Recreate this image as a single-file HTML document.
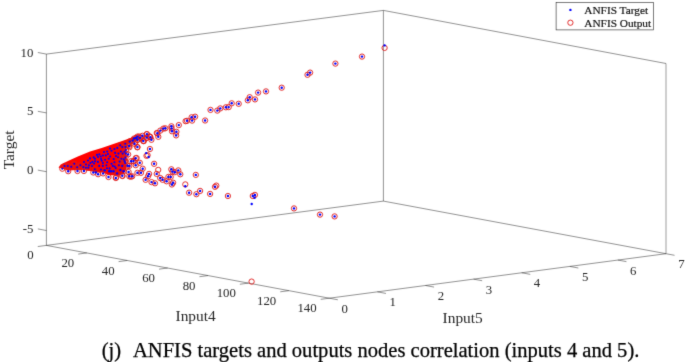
<!DOCTYPE html>
<html><head><meta charset="utf-8"><style>
html,body{margin:0;padding:0;background:#fff;}
body{width:685px;height:362px;overflow:hidden;}
svg{display:block;will-change:transform;}
text{font-family:"Liberation Serif",serif;fill:#262626;}
.cap{fill:#000;stroke:#000;stroke-width:0.25px;}
.lg{fill:#111;stroke:#111;stroke-width:0.2px;}
</style></head><body>
<svg width="685" height="362" viewBox="0 0 685 362">
<defs><filter id="bl" x="0" y="0" width="685" height="362" filterUnits="userSpaceOnUse" color-interpolation-filters="sRGB"><feConvolveMatrix order="3" kernelMatrix="0.01134 0.08382 0.01134 0.08382 0.61935 0.08382 0.01134 0.08382 0.01134" edgeMode="duplicate" preserveAlpha="true"/></filter></defs>
<g filter="url(#bl)">
<rect width="685" height="362" fill="#fff"/>
<line x1="46.40" y1="54.10" x2="383.40" y2="10.40" stroke="#262626" stroke-width="0.5"/>
<line x1="383.40" y1="10.40" x2="666.00" y2="63.50" stroke="#262626" stroke-width="0.5"/>
<line x1="46.40" y1="245.40" x2="383.40" y2="201.10" stroke="#262626" stroke-width="0.5"/>
<line x1="383.40" y1="201.10" x2="666.00" y2="253.70" stroke="#262626" stroke-width="0.5"/>
<line x1="383.40" y1="201.10" x2="383.40" y2="10.40" stroke="#262626" stroke-width="0.5"/>
<line x1="666.00" y1="253.70" x2="666.00" y2="63.50" stroke="#262626" stroke-width="0.45"/>
<line x1="46.40" y1="245.40" x2="46.40" y2="54.10" stroke="#262626" stroke-width="0.5"/>
<line x1="46.40" y1="245.40" x2="329.30" y2="298.20" stroke="#262626" stroke-width="0.5"/>
<line x1="329.30" y1="298.20" x2="666.00" y2="253.70" stroke="#262626" stroke-width="0.5"/>
<line x1="46.40" y1="245.40" x2="37.78" y2="246.54" stroke="#262626" stroke-width="0.5"/>
<line x1="86.81" y1="252.94" x2="78.19" y2="254.08" stroke="#262626" stroke-width="0.5"/>
<line x1="127.23" y1="260.49" x2="118.60" y2="261.63" stroke="#262626" stroke-width="0.5"/>
<line x1="167.64" y1="268.03" x2="159.02" y2="269.17" stroke="#262626" stroke-width="0.5"/>
<line x1="208.06" y1="275.57" x2="199.43" y2="276.71" stroke="#262626" stroke-width="0.5"/>
<line x1="248.47" y1="283.11" x2="239.85" y2="284.25" stroke="#262626" stroke-width="0.5"/>
<line x1="288.89" y1="290.66" x2="280.26" y2="291.80" stroke="#262626" stroke-width="0.5"/>
<line x1="329.30" y1="298.20" x2="320.68" y2="299.34" stroke="#262626" stroke-width="0.5"/>
<line x1="329.30" y1="298.20" x2="337.85" y2="299.80" stroke="#262626" stroke-width="0.5"/>
<line x1="377.40" y1="291.84" x2="385.95" y2="293.44" stroke="#262626" stroke-width="0.5"/>
<line x1="425.50" y1="285.49" x2="434.05" y2="287.08" stroke="#262626" stroke-width="0.5"/>
<line x1="473.60" y1="279.13" x2="482.15" y2="280.72" stroke="#262626" stroke-width="0.5"/>
<line x1="521.70" y1="272.77" x2="530.25" y2="274.37" stroke="#262626" stroke-width="0.5"/>
<line x1="569.80" y1="266.41" x2="578.35" y2="268.01" stroke="#262626" stroke-width="0.5"/>
<line x1="617.90" y1="260.06" x2="626.45" y2="261.65" stroke="#262626" stroke-width="0.5"/>
<line x1="666.00" y1="253.70" x2="674.55" y2="255.30" stroke="#262626" stroke-width="0.5"/>
<line x1="46.40" y1="230.50" x2="37.85" y2="228.90" stroke="#262626" stroke-width="0.5"/>
<line x1="46.40" y1="171.70" x2="37.85" y2="170.10" stroke="#262626" stroke-width="0.5"/>
<line x1="46.40" y1="112.90" x2="37.85" y2="111.30" stroke="#262626" stroke-width="0.5"/>
<line x1="46.40" y1="54.10" x2="37.85" y2="52.50" stroke="#262626" stroke-width="0.5"/>
<polygon points="58.5,167.5 60.8,164.6 69,160.4 78.4,156.2 90,151.6 101.7,148 113.4,144 125,139.9 132.4,137.3 136,136.6 135,139.5 131,142 127.5,145 126.5,149 126.5,160 126.5,168 125,172 122.5,174.5 116.1,175.5 108.5,175 103.1,172.5 98.1,172.5 93.3,171.5 83.9,170 77.5,170 68.2,170.5 62.3,168.7" fill="#ff0000"/>
<circle cx="362.0" cy="56.6" r="2.65" fill="none" stroke="#e01a1a" stroke-width="0.9"/>
<circle cx="335.4" cy="63.6" r="2.65" fill="none" stroke="#e01a1a" stroke-width="0.9"/>
<circle cx="310.1" cy="72.6" r="2.65" fill="none" stroke="#e01a1a" stroke-width="0.9"/>
<circle cx="307.5" cy="74.8" r="2.65" fill="none" stroke="#e01a1a" stroke-width="0.9"/>
<circle cx="281.7" cy="87.7" r="2.65" fill="none" stroke="#e01a1a" stroke-width="0.9"/>
<circle cx="266.0" cy="91.4" r="2.65" fill="none" stroke="#e01a1a" stroke-width="0.9"/>
<circle cx="258.1" cy="92.6" r="2.65" fill="none" stroke="#e01a1a" stroke-width="0.9"/>
<circle cx="249.7" cy="97.2" r="2.65" fill="none" stroke="#e01a1a" stroke-width="0.9"/>
<circle cx="247.8" cy="100.3" r="2.65" fill="none" stroke="#e01a1a" stroke-width="0.9"/>
<circle cx="255.0" cy="99.4" r="2.65" fill="none" stroke="#e01a1a" stroke-width="0.9"/>
<circle cx="238.7" cy="103.8" r="2.65" fill="none" stroke="#e01a1a" stroke-width="0.9"/>
<circle cx="231.7" cy="103.3" r="2.65" fill="none" stroke="#e01a1a" stroke-width="0.9"/>
<circle cx="228.7" cy="107.1" r="2.65" fill="none" stroke="#e01a1a" stroke-width="0.9"/>
<circle cx="225.9" cy="107.3" r="2.65" fill="none" stroke="#e01a1a" stroke-width="0.9"/>
<circle cx="220.3" cy="108.4" r="2.65" fill="none" stroke="#e01a1a" stroke-width="0.9"/>
<circle cx="217.3" cy="110.6" r="2.65" fill="none" stroke="#e01a1a" stroke-width="0.9"/>
<circle cx="210.5" cy="109.9" r="2.65" fill="none" stroke="#e01a1a" stroke-width="0.9"/>
<circle cx="205.1" cy="120.5" r="2.65" fill="none" stroke="#e01a1a" stroke-width="0.9"/>
<circle cx="195.1" cy="116.7" r="2.65" fill="none" stroke="#e01a1a" stroke-width="0.9"/>
<circle cx="191.6" cy="117.3" r="2.65" fill="none" stroke="#e01a1a" stroke-width="0.9"/>
<circle cx="192.1" cy="120.6" r="2.65" fill="none" stroke="#e01a1a" stroke-width="0.9"/>
<circle cx="187.0" cy="120.8" r="2.65" fill="none" stroke="#e01a1a" stroke-width="0.9"/>
<circle cx="185.6" cy="121.2" r="2.65" fill="none" stroke="#e01a1a" stroke-width="0.9"/>
<circle cx="178.8" cy="125.1" r="2.65" fill="none" stroke="#e01a1a" stroke-width="0.9"/>
<circle cx="171.4" cy="126.3" r="2.65" fill="none" stroke="#e01a1a" stroke-width="0.9"/>
<circle cx="171.6" cy="128.4" r="2.65" fill="none" stroke="#e01a1a" stroke-width="0.9"/>
<circle cx="172" cy="131.3" r="2.65" fill="none" stroke="#e01a1a" stroke-width="0.9"/>
<circle cx="176.4" cy="131.8" r="2.65" fill="none" stroke="#e01a1a" stroke-width="0.9"/>
<circle cx="176.1" cy="135.4" r="2.65" fill="none" stroke="#e01a1a" stroke-width="0.9"/>
<circle cx="165.3" cy="128.3" r="2.65" fill="none" stroke="#e01a1a" stroke-width="0.9"/>
<circle cx="163.4" cy="128.6" r="2.65" fill="none" stroke="#e01a1a" stroke-width="0.9"/>
<circle cx="160.3" cy="130.6" r="2.65" fill="none" stroke="#e01a1a" stroke-width="0.9"/>
<circle cx="157.4" cy="133.3" r="2.65" fill="none" stroke="#e01a1a" stroke-width="0.9"/>
<circle cx="158.3" cy="136.8" r="2.65" fill="none" stroke="#e01a1a" stroke-width="0.9"/>
<circle cx="146.9" cy="134.1" r="2.65" fill="none" stroke="#e01a1a" stroke-width="0.9"/>
<circle cx="146.6" cy="137.6" r="2.65" fill="none" stroke="#e01a1a" stroke-width="0.9"/>
<circle cx="150.4" cy="137.1" r="2.65" fill="none" stroke="#e01a1a" stroke-width="0.9"/>
<circle cx="149.9" cy="136.6" r="2.65" fill="none" stroke="#e01a1a" stroke-width="0.9"/>
<circle cx="143.3" cy="141" r="2.65" fill="none" stroke="#e01a1a" stroke-width="0.9"/>
<circle cx="140" cy="137.7" r="2.65" fill="none" stroke="#e01a1a" stroke-width="0.9"/>
<circle cx="384.6" cy="47.9" r="2.65" fill="none" stroke="#e01a1a" stroke-width="0.9"/>
<circle cx="154.1" cy="163.8" r="2.65" fill="none" stroke="#e01a1a" stroke-width="0.9"/>
<circle cx="156.7" cy="173.9" r="2.65" fill="none" stroke="#e01a1a" stroke-width="0.9"/>
<circle cx="149.1" cy="173.9" r="2.65" fill="none" stroke="#e01a1a" stroke-width="0.9"/>
<circle cx="148" cy="176.3" r="2.65" fill="none" stroke="#e01a1a" stroke-width="0.9"/>
<circle cx="145.6" cy="179.8" r="2.65" fill="none" stroke="#e01a1a" stroke-width="0.9"/>
<circle cx="151.5" cy="182.1" r="2.65" fill="none" stroke="#e01a1a" stroke-width="0.9"/>
<circle cx="155" cy="183.3" r="2.65" fill="none" stroke="#e01a1a" stroke-width="0.9"/>
<circle cx="160.2" cy="178" r="2.65" fill="none" stroke="#e01a1a" stroke-width="0.9"/>
<circle cx="162.6" cy="179.8" r="2.65" fill="none" stroke="#e01a1a" stroke-width="0.9"/>
<circle cx="166.6" cy="181.3" r="2.65" fill="none" stroke="#e01a1a" stroke-width="0.9"/>
<circle cx="168.4" cy="176.9" r="2.65" fill="none" stroke="#e01a1a" stroke-width="0.9"/>
<circle cx="170.7" cy="176.9" r="2.65" fill="none" stroke="#e01a1a" stroke-width="0.9"/>
<circle cx="171.3" cy="169.3" r="2.65" fill="none" stroke="#e01a1a" stroke-width="0.9"/>
<circle cx="172.5" cy="171.6" r="2.65" fill="none" stroke="#e01a1a" stroke-width="0.9"/>
<circle cx="174.8" cy="172.2" r="2.65" fill="none" stroke="#e01a1a" stroke-width="0.9"/>
<circle cx="178.3" cy="170.4" r="2.65" fill="none" stroke="#e01a1a" stroke-width="0.9"/>
<circle cx="180.3" cy="174.3" r="2.65" fill="none" stroke="#e01a1a" stroke-width="0.9"/>
<circle cx="171.9" cy="184.5" r="2.65" fill="none" stroke="#e01a1a" stroke-width="0.9"/>
<circle cx="173.1" cy="182.7" r="2.65" fill="none" stroke="#e01a1a" stroke-width="0.9"/>
<circle cx="195.8" cy="174.9" r="2.65" fill="none" stroke="#e01a1a" stroke-width="0.9"/>
<circle cx="189.1" cy="192.7" r="2.65" fill="none" stroke="#e01a1a" stroke-width="0.9"/>
<circle cx="196.4" cy="194.2" r="2.65" fill="none" stroke="#e01a1a" stroke-width="0.9"/>
<circle cx="200.1" cy="190.9" r="2.65" fill="none" stroke="#e01a1a" stroke-width="0.9"/>
<circle cx="210.1" cy="193.9" r="2.65" fill="none" stroke="#e01a1a" stroke-width="0.9"/>
<circle cx="215.0" cy="186.8" r="2.65" fill="none" stroke="#e01a1a" stroke-width="0.9"/>
<circle cx="216.3" cy="185.6" r="2.65" fill="none" stroke="#e01a1a" stroke-width="0.9"/>
<circle cx="227.9" cy="196" r="2.65" fill="none" stroke="#e01a1a" stroke-width="0.9"/>
<circle cx="252.8" cy="196" r="2.65" fill="none" stroke="#e01a1a" stroke-width="0.9"/>
<circle cx="254.9" cy="194.9" r="2.65" fill="none" stroke="#e01a1a" stroke-width="0.9"/>
<circle cx="294" cy="208.4" r="2.65" fill="none" stroke="#e01a1a" stroke-width="0.9"/>
<circle cx="320" cy="214.6" r="2.65" fill="none" stroke="#e01a1a" stroke-width="0.9"/>
<circle cx="334.6" cy="216.4" r="2.65" fill="none" stroke="#e01a1a" stroke-width="0.9"/>
<circle cx="158.2" cy="169.9" r="2.65" fill="none" stroke="#e01a1a" stroke-width="0.9"/>
<circle cx="185.3" cy="184.4" r="2.65" fill="none" stroke="#e01a1a" stroke-width="0.9"/>
<circle cx="251.6" cy="281.6" r="2.65" fill="none" stroke="#e01a1a" stroke-width="0.9"/>
<circle cx="135.7" cy="158.2" r="2.65" fill="none" stroke="#e01a1a" stroke-width="0.9"/>
<circle cx="133.4" cy="161.1" r="2.65" fill="none" stroke="#e01a1a" stroke-width="0.9"/>
<circle cx="139.8" cy="162.8" r="2.65" fill="none" stroke="#e01a1a" stroke-width="0.9"/>
<circle cx="135.7" cy="165.2" r="2.65" fill="none" stroke="#e01a1a" stroke-width="0.9"/>
<circle cx="142.7" cy="168.7" r="2.65" fill="none" stroke="#e01a1a" stroke-width="0.9"/>
<circle cx="141" cy="172.8" r="2.65" fill="none" stroke="#e01a1a" stroke-width="0.9"/>
<circle cx="137.4" cy="172.8" r="2.65" fill="none" stroke="#e01a1a" stroke-width="0.9"/>
<circle cx="132.2" cy="176.3" r="2.65" fill="none" stroke="#e01a1a" stroke-width="0.9"/>
<circle cx="129.3" cy="176.3" r="2.65" fill="none" stroke="#e01a1a" stroke-width="0.9"/>
<circle cx="122.3" cy="175.7" r="2.65" fill="none" stroke="#e01a1a" stroke-width="0.9"/>
<circle cx="115.8" cy="178" r="2.65" fill="none" stroke="#e01a1a" stroke-width="0.9"/>
<circle cx="127.5" cy="165.8" r="2.65" fill="none" stroke="#e01a1a" stroke-width="0.9"/>
<circle cx="62.3" cy="168.7" r="2.65" fill="none" stroke="#e01a1a" stroke-width="0.9"/>
<circle cx="68.2" cy="171.2" r="2.65" fill="none" stroke="#e01a1a" stroke-width="0.9"/>
<circle cx="71.2" cy="166.7" r="2.65" fill="none" stroke="#e01a1a" stroke-width="0.9"/>
<circle cx="77.5" cy="171" r="2.65" fill="none" stroke="#e01a1a" stroke-width="0.9"/>
<circle cx="83.9" cy="171" r="2.65" fill="none" stroke="#e01a1a" stroke-width="0.9"/>
<circle cx="93.3" cy="172.5" r="2.65" fill="none" stroke="#e01a1a" stroke-width="0.9"/>
<circle cx="98.1" cy="174.2" r="2.65" fill="none" stroke="#e01a1a" stroke-width="0.9"/>
<circle cx="103.1" cy="173.4" r="2.65" fill="none" stroke="#e01a1a" stroke-width="0.9"/>
<circle cx="108.5" cy="177" r="2.65" fill="none" stroke="#e01a1a" stroke-width="0.9"/>
<circle cx="116.1" cy="177.4" r="2.65" fill="none" stroke="#e01a1a" stroke-width="0.9"/>
<circle cx="122.5" cy="176" r="2.65" fill="none" stroke="#e01a1a" stroke-width="0.9"/>
<circle cx="113.5" cy="171.3" r="2.65" fill="none" stroke="#e01a1a" stroke-width="0.9"/>
<circle cx="117.1" cy="173.4" r="2.65" fill="none" stroke="#e01a1a" stroke-width="0.9"/>
<circle cx="128.6" cy="172" r="2.65" fill="none" stroke="#e01a1a" stroke-width="0.9"/>
<circle cx="130.8" cy="176.7" r="2.65" fill="none" stroke="#e01a1a" stroke-width="0.9"/>
<circle cx="146.7" cy="134.3" r="2.65" fill="none" stroke="#e01a1a" stroke-width="0.9"/>
<circle cx="146.4" cy="138.1" r="2.65" fill="none" stroke="#e01a1a" stroke-width="0.9"/>
<circle cx="149.6" cy="136.6" r="2.65" fill="none" stroke="#e01a1a" stroke-width="0.9"/>
<circle cx="151.4" cy="139.8" r="2.65" fill="none" stroke="#e01a1a" stroke-width="0.9"/>
<circle cx="143.5" cy="140.9" r="2.65" fill="none" stroke="#e01a1a" stroke-width="0.9"/>
<circle cx="140.6" cy="138.1" r="2.65" fill="none" stroke="#e01a1a" stroke-width="0.9"/>
<circle cx="137.4" cy="139.8" r="2.65" fill="none" stroke="#e01a1a" stroke-width="0.9"/>
<circle cx="137.4" cy="136.6" r="2.65" fill="none" stroke="#e01a1a" stroke-width="0.9"/>
<circle cx="132.7" cy="140.6" r="2.65" fill="none" stroke="#e01a1a" stroke-width="0.9"/>
<circle cx="134.5" cy="143.8" r="2.65" fill="none" stroke="#e01a1a" stroke-width="0.9"/>
<circle cx="137.4" cy="147" r="2.65" fill="none" stroke="#e01a1a" stroke-width="0.9"/>
<circle cx="129.1" cy="146" r="2.65" fill="none" stroke="#e01a1a" stroke-width="0.9"/>
<circle cx="129.8" cy="141.6" r="2.65" fill="none" stroke="#e01a1a" stroke-width="0.9"/>
<circle cx="125.2" cy="143.8" r="2.65" fill="none" stroke="#e01a1a" stroke-width="0.9"/>
<circle cx="122.3" cy="147" r="2.65" fill="none" stroke="#e01a1a" stroke-width="0.9"/>
<circle cx="125.5" cy="147" r="2.65" fill="none" stroke="#e01a1a" stroke-width="0.9"/>
<circle cx="120.2" cy="145.2" r="2.65" fill="none" stroke="#e01a1a" stroke-width="0.9"/>
<circle cx="156.8" cy="133" r="2.65" fill="none" stroke="#e01a1a" stroke-width="0.9"/>
<circle cx="136.6" cy="158" r="2.65" fill="none" stroke="#e01a1a" stroke-width="0.9"/>
<circle cx="133.7" cy="161.4" r="2.65" fill="none" stroke="#e01a1a" stroke-width="0.9"/>
<circle cx="64.6" cy="166" r="2.65" fill="none" stroke="#e01a1a" stroke-width="0.9"/>
<circle cx="67.8" cy="166" r="2.65" fill="none" stroke="#e01a1a" stroke-width="0.9"/>
<circle cx="74.3" cy="163.8" r="2.65" fill="none" stroke="#e01a1a" stroke-width="0.9"/>
<circle cx="77.2" cy="167.2" r="2.65" fill="none" stroke="#e01a1a" stroke-width="0.9"/>
<circle cx="80.4" cy="165.3" r="2.65" fill="none" stroke="#e01a1a" stroke-width="0.9"/>
<circle cx="83.3" cy="167.1" r="2.65" fill="none" stroke="#e01a1a" stroke-width="0.9"/>
<circle cx="88.3" cy="167.8" r="2.65" fill="none" stroke="#e01a1a" stroke-width="0.9"/>
<circle cx="94.8" cy="169.2" r="2.65" fill="none" stroke="#e01a1a" stroke-width="0.9"/>
<circle cx="126.5" cy="167" r="2.65" fill="none" stroke="#e01a1a" stroke-width="0.9"/>
<circle cx="129.3" cy="165.9" r="2.65" fill="none" stroke="#e01a1a" stroke-width="0.9"/>
<circle cx="123.6" cy="171.3" r="2.65" fill="none" stroke="#e01a1a" stroke-width="0.9"/>
<circle cx="131.1" cy="161.2" r="2.65" fill="none" stroke="#e01a1a" stroke-width="0.9"/>
<circle cx="124.7" cy="161.2" r="2.65" fill="none" stroke="#e01a1a" stroke-width="0.9"/>
<circle cx="119.6" cy="161.6" r="2.65" fill="none" stroke="#e01a1a" stroke-width="0.9"/>
<circle cx="118.9" cy="165.2" r="2.65" fill="none" stroke="#e01a1a" stroke-width="0.9"/>
<circle cx="121.4" cy="158.7" r="2.65" fill="none" stroke="#e01a1a" stroke-width="0.9"/>
<circle cx="125.2" cy="161.2" r="2.65" fill="none" stroke="#e01a1a" stroke-width="0.9"/>
<circle cx="123.8" cy="159.4" r="2.65" fill="none" stroke="#e01a1a" stroke-width="0.9"/>
<circle cx="125.5" cy="157.6" r="2.65" fill="none" stroke="#e01a1a" stroke-width="0.9"/>
<circle cx="128.1" cy="154.4" r="2.65" fill="none" stroke="#e01a1a" stroke-width="0.9"/>
<circle cx="125.9" cy="153.6" r="2.65" fill="none" stroke="#e01a1a" stroke-width="0.9"/>
<circle cx="125.9" cy="150" r="2.65" fill="none" stroke="#e01a1a" stroke-width="0.9"/>
<circle cx="128.1" cy="145" r="2.65" fill="none" stroke="#e01a1a" stroke-width="0.9"/>
<circle cx="129.5" cy="147.2" r="2.65" fill="none" stroke="#e01a1a" stroke-width="0.9"/>
<circle cx="122.7" cy="153.6" r="2.65" fill="none" stroke="#e01a1a" stroke-width="0.9"/>
<circle cx="120.9" cy="157.6" r="2.65" fill="none" stroke="#e01a1a" stroke-width="0.9"/>
<circle cx="149.9" cy="149" r="2.65" fill="none" stroke="#e01a1a" stroke-width="0.9"/>
<circle cx="146.5" cy="155.8" r="2.65" fill="none" stroke="#e01a1a" stroke-width="0.9"/>
<circle cx="147.6" cy="155.2" r="2.65" fill="none" stroke="#e01a1a" stroke-width="0.9"/>
<circle cx="137.4" cy="147.3" r="2.65" fill="none" stroke="#e01a1a" stroke-width="0.9"/>
<circle cx="132.9" cy="140.2" r="2.65" fill="none" stroke="#e01a1a" stroke-width="0.9"/>
<circle cx="135.3" cy="142.6" r="2.65" fill="none" stroke="#e01a1a" stroke-width="0.9"/>
<circle cx="137.4" cy="139.9" r="2.65" fill="none" stroke="#e01a1a" stroke-width="0.9"/>
<circle cx="140.8" cy="137.8" r="2.65" fill="none" stroke="#e01a1a" stroke-width="0.9"/>
<circle cx="143.8" cy="141.1" r="2.65" fill="none" stroke="#e01a1a" stroke-width="0.9"/>
<circle cx="139" cy="136.5" r="2.65" fill="none" stroke="#e01a1a" stroke-width="0.9"/>
<circle cx="136" cy="138" r="2.65" fill="none" stroke="#e01a1a" stroke-width="0.9"/>
<circle cx="142.5" cy="135.8" r="2.65" fill="none" stroke="#e01a1a" stroke-width="0.9"/>
<circle cx="129.8" cy="141.4" r="2.65" fill="none" stroke="#e01a1a" stroke-width="0.9"/>
<circle cx="134.1" cy="138.5" r="2.65" fill="none" stroke="#e01a1a" stroke-width="0.9"/>
<circle cx="362.0" cy="56.6" r="1.2" fill="#0000ff"/>
<circle cx="335.4" cy="63.6" r="1.2" fill="#0000ff"/>
<circle cx="310.1" cy="72.6" r="1.2" fill="#0000ff"/>
<circle cx="307.5" cy="74.8" r="1.2" fill="#0000ff"/>
<circle cx="281.7" cy="87.7" r="1.2" fill="#0000ff"/>
<circle cx="266.0" cy="91.4" r="1.2" fill="#0000ff"/>
<circle cx="258.1" cy="92.6" r="1.2" fill="#0000ff"/>
<circle cx="249.7" cy="97.2" r="1.2" fill="#0000ff"/>
<circle cx="247.8" cy="100.3" r="1.2" fill="#0000ff"/>
<circle cx="255.0" cy="99.4" r="1.2" fill="#0000ff"/>
<circle cx="238.7" cy="103.8" r="1.2" fill="#0000ff"/>
<circle cx="231.7" cy="103.3" r="1.2" fill="#0000ff"/>
<circle cx="228.7" cy="107.1" r="1.2" fill="#0000ff"/>
<circle cx="225.9" cy="107.3" r="1.2" fill="#0000ff"/>
<circle cx="220.3" cy="108.4" r="1.2" fill="#0000ff"/>
<circle cx="217.3" cy="110.6" r="1.2" fill="#0000ff"/>
<circle cx="210.5" cy="109.9" r="1.2" fill="#0000ff"/>
<circle cx="205.1" cy="120.5" r="1.2" fill="#0000ff"/>
<circle cx="195.1" cy="116.7" r="1.2" fill="#0000ff"/>
<circle cx="191.6" cy="117.3" r="1.2" fill="#0000ff"/>
<circle cx="192.1" cy="120.6" r="1.2" fill="#0000ff"/>
<circle cx="187.0" cy="120.8" r="1.2" fill="#0000ff"/>
<circle cx="178.8" cy="125.1" r="1.2" fill="#0000ff"/>
<circle cx="171.4" cy="126.3" r="1.2" fill="#0000ff"/>
<circle cx="171.6" cy="128.4" r="1.2" fill="#0000ff"/>
<circle cx="172" cy="131.3" r="1.2" fill="#0000ff"/>
<circle cx="176.4" cy="131.8" r="1.2" fill="#0000ff"/>
<circle cx="176.1" cy="135.4" r="1.2" fill="#0000ff"/>
<circle cx="165.3" cy="128.3" r="1.2" fill="#0000ff"/>
<circle cx="163.4" cy="128.6" r="1.2" fill="#0000ff"/>
<circle cx="160.3" cy="130.6" r="1.2" fill="#0000ff"/>
<circle cx="157.4" cy="133.3" r="1.2" fill="#0000ff"/>
<circle cx="158.3" cy="136.8" r="1.2" fill="#0000ff"/>
<circle cx="146.9" cy="134.1" r="1.2" fill="#0000ff"/>
<circle cx="146.6" cy="137.6" r="1.2" fill="#0000ff"/>
<circle cx="150.4" cy="137.1" r="1.2" fill="#0000ff"/>
<circle cx="143.3" cy="141" r="1.2" fill="#0000ff"/>
<circle cx="140" cy="137.7" r="1.2" fill="#0000ff"/>
<circle cx="384.6" cy="45.4" r="1.2" fill="#0000ff"/>
<circle cx="154.1" cy="163.8" r="1.2" fill="#0000ff"/>
<circle cx="156.7" cy="173.9" r="1.2" fill="#0000ff"/>
<circle cx="149.1" cy="173.9" r="1.2" fill="#0000ff"/>
<circle cx="148" cy="176.3" r="1.2" fill="#0000ff"/>
<circle cx="145.6" cy="179.8" r="1.2" fill="#0000ff"/>
<circle cx="151.5" cy="182.1" r="1.2" fill="#0000ff"/>
<circle cx="155" cy="183.3" r="1.2" fill="#0000ff"/>
<circle cx="160.2" cy="178" r="1.2" fill="#0000ff"/>
<circle cx="162.6" cy="179.8" r="1.2" fill="#0000ff"/>
<circle cx="166.6" cy="181.3" r="1.2" fill="#0000ff"/>
<circle cx="168.4" cy="176.9" r="1.2" fill="#0000ff"/>
<circle cx="170.7" cy="176.9" r="1.2" fill="#0000ff"/>
<circle cx="171.3" cy="169.3" r="1.2" fill="#0000ff"/>
<circle cx="172.5" cy="171.6" r="1.2" fill="#0000ff"/>
<circle cx="174.8" cy="172.2" r="1.2" fill="#0000ff"/>
<circle cx="178.3" cy="170.4" r="1.2" fill="#0000ff"/>
<circle cx="180.3" cy="174.3" r="1.2" fill="#0000ff"/>
<circle cx="171.9" cy="184.5" r="1.2" fill="#0000ff"/>
<circle cx="173.1" cy="182.7" r="1.2" fill="#0000ff"/>
<circle cx="195.8" cy="174.9" r="1.2" fill="#0000ff"/>
<circle cx="189.1" cy="192.7" r="1.2" fill="#0000ff"/>
<circle cx="196.4" cy="194.2" r="1.2" fill="#0000ff"/>
<circle cx="200.1" cy="190.9" r="1.2" fill="#0000ff"/>
<circle cx="210.1" cy="193.9" r="1.2" fill="#0000ff"/>
<circle cx="215.0" cy="186.8" r="1.2" fill="#0000ff"/>
<circle cx="227.9" cy="196" r="1.2" fill="#0000ff"/>
<circle cx="252.8" cy="196" r="1.2" fill="#0000ff"/>
<circle cx="254.9" cy="194.9" r="1.2" fill="#0000ff"/>
<circle cx="294" cy="208.4" r="1.2" fill="#0000ff"/>
<circle cx="320" cy="214.6" r="1.2" fill="#0000ff"/>
<circle cx="334.6" cy="216.4" r="1.2" fill="#0000ff"/>
<circle cx="185.3" cy="186.3" r="1.2" fill="#0000ff"/>
<circle cx="254.6" cy="197.8" r="1.2" fill="#0000ff"/>
<circle cx="251.7" cy="204" r="1.2" fill="#0000ff"/>
<circle cx="135.7" cy="158.2" r="1.2" fill="#0000ff"/>
<circle cx="133.4" cy="161.1" r="1.2" fill="#0000ff"/>
<circle cx="139.8" cy="162.8" r="1.2" fill="#0000ff"/>
<circle cx="135.7" cy="165.2" r="1.2" fill="#0000ff"/>
<circle cx="142.7" cy="168.7" r="1.2" fill="#0000ff"/>
<circle cx="141" cy="172.8" r="1.2" fill="#0000ff"/>
<circle cx="137.4" cy="172.8" r="1.2" fill="#0000ff"/>
<circle cx="132.2" cy="176.3" r="1.2" fill="#0000ff"/>
<circle cx="129.3" cy="176.3" r="1.2" fill="#0000ff"/>
<circle cx="122.3" cy="175.7" r="1.2" fill="#0000ff"/>
<circle cx="115.8" cy="178" r="1.2" fill="#0000ff"/>
<circle cx="127.5" cy="165.8" r="1.2" fill="#0000ff"/>
<circle cx="62.3" cy="168.7" r="1.05" fill="#0000ff"/>
<circle cx="68.2" cy="171.2" r="1.2" fill="#0000ff"/>
<circle cx="71.2" cy="166.7" r="1.05" fill="#0000ff"/>
<circle cx="77.5" cy="171" r="1.2" fill="#0000ff"/>
<circle cx="83.9" cy="171" r="1.2" fill="#0000ff"/>
<circle cx="93.3" cy="172.5" r="1.2" fill="#0000ff"/>
<circle cx="98.1" cy="174.2" r="1.2" fill="#0000ff"/>
<circle cx="103.1" cy="173.4" r="1.2" fill="#0000ff"/>
<circle cx="108.5" cy="177" r="1.2" fill="#0000ff"/>
<circle cx="113.5" cy="171.3" r="1.2" fill="#0000ff"/>
<circle cx="117.1" cy="173.4" r="1.2" fill="#0000ff"/>
<circle cx="128.6" cy="172" r="1.2" fill="#0000ff"/>
<circle cx="151.4" cy="139.8" r="1.2" fill="#0000ff"/>
<circle cx="137.4" cy="139.8" r="1.2" fill="#0000ff"/>
<circle cx="137.4" cy="136.6" r="1.2" fill="#0000ff"/>
<circle cx="132.7" cy="140.6" r="1.2" fill="#0000ff"/>
<circle cx="134.5" cy="143.8" r="1.2" fill="#0000ff"/>
<circle cx="137.4" cy="147" r="1.2" fill="#0000ff"/>
<circle cx="129.1" cy="146" r="1.2" fill="#0000ff"/>
<circle cx="129.8" cy="141.6" r="1.2" fill="#0000ff"/>
<circle cx="125.2" cy="143.8" r="1.05" fill="#0000ff"/>
<circle cx="122.3" cy="147" r="1.05" fill="#0000ff"/>
<circle cx="125.5" cy="147" r="1.05" fill="#0000ff"/>
<circle cx="120.2" cy="145.2" r="1.05" fill="#0000ff"/>
<circle cx="64.6" cy="166" r="1.05" fill="#0000ff"/>
<circle cx="67.8" cy="166" r="1.05" fill="#0000ff"/>
<circle cx="74.3" cy="163.8" r="1.05" fill="#0000ff"/>
<circle cx="77.2" cy="167.2" r="1.05" fill="#0000ff"/>
<circle cx="80.4" cy="165.3" r="1.05" fill="#0000ff"/>
<circle cx="83.3" cy="167.1" r="1.05" fill="#0000ff"/>
<circle cx="88.3" cy="167.8" r="1.05" fill="#0000ff"/>
<circle cx="94.8" cy="169.2" r="1.05" fill="#0000ff"/>
<circle cx="129.3" cy="165.9" r="1.2" fill="#0000ff"/>
<circle cx="123.6" cy="171.3" r="1.2" fill="#0000ff"/>
<circle cx="131.1" cy="161.2" r="1.2" fill="#0000ff"/>
<circle cx="124.7" cy="161.2" r="1.05" fill="#0000ff"/>
<circle cx="119.6" cy="161.6" r="1.05" fill="#0000ff"/>
<circle cx="118.9" cy="165.2" r="1.05" fill="#0000ff"/>
<circle cx="121.4" cy="158.7" r="1.05" fill="#0000ff"/>
<circle cx="123.8" cy="159.4" r="1.05" fill="#0000ff"/>
<circle cx="125.5" cy="157.6" r="1.05" fill="#0000ff"/>
<circle cx="128.1" cy="154.4" r="1.2" fill="#0000ff"/>
<circle cx="125.9" cy="153.6" r="1.05" fill="#0000ff"/>
<circle cx="125.9" cy="150" r="1.05" fill="#0000ff"/>
<circle cx="122.7" cy="153.6" r="1.05" fill="#0000ff"/>
<circle cx="94.1" cy="163.5" r="1.05" fill="#0000ff"/>
<circle cx="95.1" cy="161.3" r="1.05" fill="#0000ff"/>
<circle cx="93.7" cy="157.4" r="1.05" fill="#0000ff"/>
<circle cx="99.3" cy="154.4" r="1.05" fill="#0000ff"/>
<circle cx="105.8" cy="155.4" r="1.05" fill="#0000ff"/>
<circle cx="107.2" cy="151.5" r="1.05" fill="#0000ff"/>
<circle cx="111.5" cy="150.8" r="1.05" fill="#0000ff"/>
<circle cx="114.4" cy="149" r="1.05" fill="#0000ff"/>
<circle cx="117.3" cy="147.9" r="1.05" fill="#0000ff"/>
<circle cx="120.9" cy="151.5" r="1.05" fill="#0000ff"/>
<circle cx="118.4" cy="153.6" r="1.05" fill="#0000ff"/>
<circle cx="115.1" cy="152.9" r="1.05" fill="#0000ff"/>
<circle cx="110.1" cy="156.5" r="1.05" fill="#0000ff"/>
<circle cx="113.7" cy="159" r="1.05" fill="#0000ff"/>
<circle cx="108.7" cy="158.7" r="1.05" fill="#0000ff"/>
<circle cx="105.1" cy="159.7" r="1.05" fill="#0000ff"/>
<circle cx="101.1" cy="159" r="1.05" fill="#0000ff"/>
<circle cx="100.8" cy="156.5" r="1.05" fill="#0000ff"/>
<circle cx="95" cy="158.7" r="1.05" fill="#0000ff"/>
<circle cx="97.9" cy="161.9" r="1.05" fill="#0000ff"/>
<circle cx="102.9" cy="163" r="1.05" fill="#0000ff"/>
<circle cx="107.2" cy="162.3" r="1.05" fill="#0000ff"/>
<circle cx="114.4" cy="162.3" r="1.05" fill="#0000ff"/>
<circle cx="111.5" cy="163.7" r="1.05" fill="#0000ff"/>
<circle cx="124.5" cy="151.7" r="1.05" fill="#0000ff"/>
<circle cx="104.6" cy="170.2" r="1.2" fill="#0000ff"/>
<circle cx="101" cy="169.5" r="1.05" fill="#0000ff"/>
<circle cx="109.2" cy="171.3" r="1.2" fill="#0000ff"/>
<circle cx="109.6" cy="168.4" r="1.05" fill="#0000ff"/>
<circle cx="112.8" cy="165.9" r="1.05" fill="#0000ff"/>
<circle cx="115.7" cy="168.1" r="1.05" fill="#0000ff"/>
<circle cx="106.4" cy="165.2" r="1.05" fill="#0000ff"/>
<circle cx="102.8" cy="165.9" r="1.05" fill="#0000ff"/>
<circle cx="99.2" cy="165.9" r="1.05" fill="#0000ff"/>
<circle cx="90.5" cy="163" r="1.05" fill="#0000ff"/>
<circle cx="86" cy="164.5" r="1.05" fill="#0000ff"/>
<circle cx="88" cy="160.5" r="1.05" fill="#0000ff"/>
<circle cx="84" cy="162" r="1.05" fill="#0000ff"/>
<circle cx="98" cy="157" r="1.05" fill="#0000ff"/>
<circle cx="103" cy="155.5" r="1.05" fill="#0000ff"/>
<circle cx="92" cy="166" r="1.05" fill="#0000ff"/>
<circle cx="108" cy="154" r="1.05" fill="#0000ff"/>
<circle cx="116" cy="156" r="1.05" fill="#0000ff"/>
<circle cx="110" cy="148.5" r="1.05" fill="#0000ff"/>
<circle cx="104" cy="152" r="1.05" fill="#0000ff"/>
<circle cx="85.9" cy="167.7" r="1.05" fill="#0000ff"/>
<circle cx="88.9" cy="165.4" r="1.05" fill="#0000ff"/>
<circle cx="95.9" cy="172.4" r="1.2" fill="#0000ff"/>
<circle cx="107" cy="168.3" r="1.05" fill="#0000ff"/>
<circle cx="111.1" cy="171.2" r="1.2" fill="#0000ff"/>
<circle cx="114.6" cy="166.5" r="1.05" fill="#0000ff"/>
<circle cx="120.4" cy="170" r="1.2" fill="#0000ff"/>
<circle cx="122.2" cy="165.9" r="1.05" fill="#0000ff"/>
<circle cx="125.1" cy="163" r="1.05" fill="#0000ff"/>
<circle cx="118.1" cy="157.2" r="1.05" fill="#0000ff"/>
<circle cx="101.7" cy="160.7" r="1.05" fill="#0000ff"/>
<circle cx="92.4" cy="161.9" r="1.05" fill="#0000ff"/>
<circle cx="90" cy="158.4" r="1.05" fill="#0000ff"/>
<circle cx="97" cy="154.9" r="1.05" fill="#0000ff"/>
<circle cx="149.9" cy="149" r="1.2" fill="#0000ff"/>
<circle cx="146.2" cy="153.1" r="1.2" fill="#0000ff"/>
<circle cx="148.6" cy="157" r="1.2" fill="#0000ff"/>
<circle cx="136" cy="138" r="1.2" fill="#0000ff"/>
<circle cx="142.5" cy="135.8" r="1.2" fill="#0000ff"/>
<circle cx="134.1" cy="138.5" r="1.2" fill="#0000ff"/>
<text x="33.78" y="259.49" font-size="12.8" text-anchor="end" >0</text>
<text x="74.19" y="267.04" font-size="12.8" text-anchor="end" >20</text>
<text x="114.60" y="274.58" font-size="12.8" text-anchor="end" >40</text>
<text x="155.02" y="282.12" font-size="12.8" text-anchor="end" >60</text>
<text x="195.43" y="289.66" font-size="12.8" text-anchor="end" >80</text>
<text x="235.85" y="297.21" font-size="12.8" text-anchor="end" >100</text>
<text x="276.26" y="304.75" font-size="12.8" text-anchor="end" >120</text>
<text x="316.68" y="312.29" font-size="12.8" text-anchor="end" >140</text>
<text x="341.45" y="312.75" font-size="12.8" text-anchor="start" >0</text>
<text x="389.55" y="306.39" font-size="12.8" text-anchor="start" >1</text>
<text x="437.65" y="300.03" font-size="12.8" text-anchor="start" >2</text>
<text x="485.75" y="293.68" font-size="12.8" text-anchor="start" >3</text>
<text x="533.85" y="287.32" font-size="12.8" text-anchor="start" >4</text>
<text x="581.95" y="280.96" font-size="12.8" text-anchor="start" >5</text>
<text x="630.05" y="274.61" font-size="12.8" text-anchor="start" >6</text>
<text x="678.15" y="268.25" font-size="12.8" text-anchor="start" >7</text>
<text x="33.30" y="232.95" font-size="12.8" text-anchor="end" >-5</text>
<text x="33.30" y="174.15" font-size="12.8" text-anchor="end" >0</text>
<text x="33.30" y="115.35" font-size="12.8" text-anchor="end" >5</text>
<text x="33.30" y="56.55" font-size="12.8" text-anchor="end" >10</text>
<text x="175.50" y="320.90" font-size="15.4" text-anchor="start" >Input4</text>
<text x="442.60" y="322.80" font-size="15.4" text-anchor="start" >Input5</text>
<text transform="translate(13.6,169.3) rotate(-90)" font-size="15.4">Target</text>
<rect x="556.1" y="2.3" width="97.2" height="27.6" fill="#fff" stroke="#262626" stroke-width="0.6"/>
<circle cx="570.4" cy="9.9" r="1.2" fill="#0000ff"/>
<circle cx="570.4" cy="22.7" r="2.65" fill="none" stroke="#e01a1a" stroke-width="0.9"/>
<text x="584.3" y="13.9" font-size="11.3" class="lg">ANFIS Target</text>
<text x="584.3" y="26.8" font-size="11.3" class="lg">ANFIS Output</text>
<text x="101.7" y="357.3" font-size="20.55" class="cap">(j)</text><text x="133.0" y="357.3" font-size="20.55" class="cap">ANFIS targets and outputs nodes correlation (inputs 4 and 5).</text>
</g>
</svg>
</body></html>
